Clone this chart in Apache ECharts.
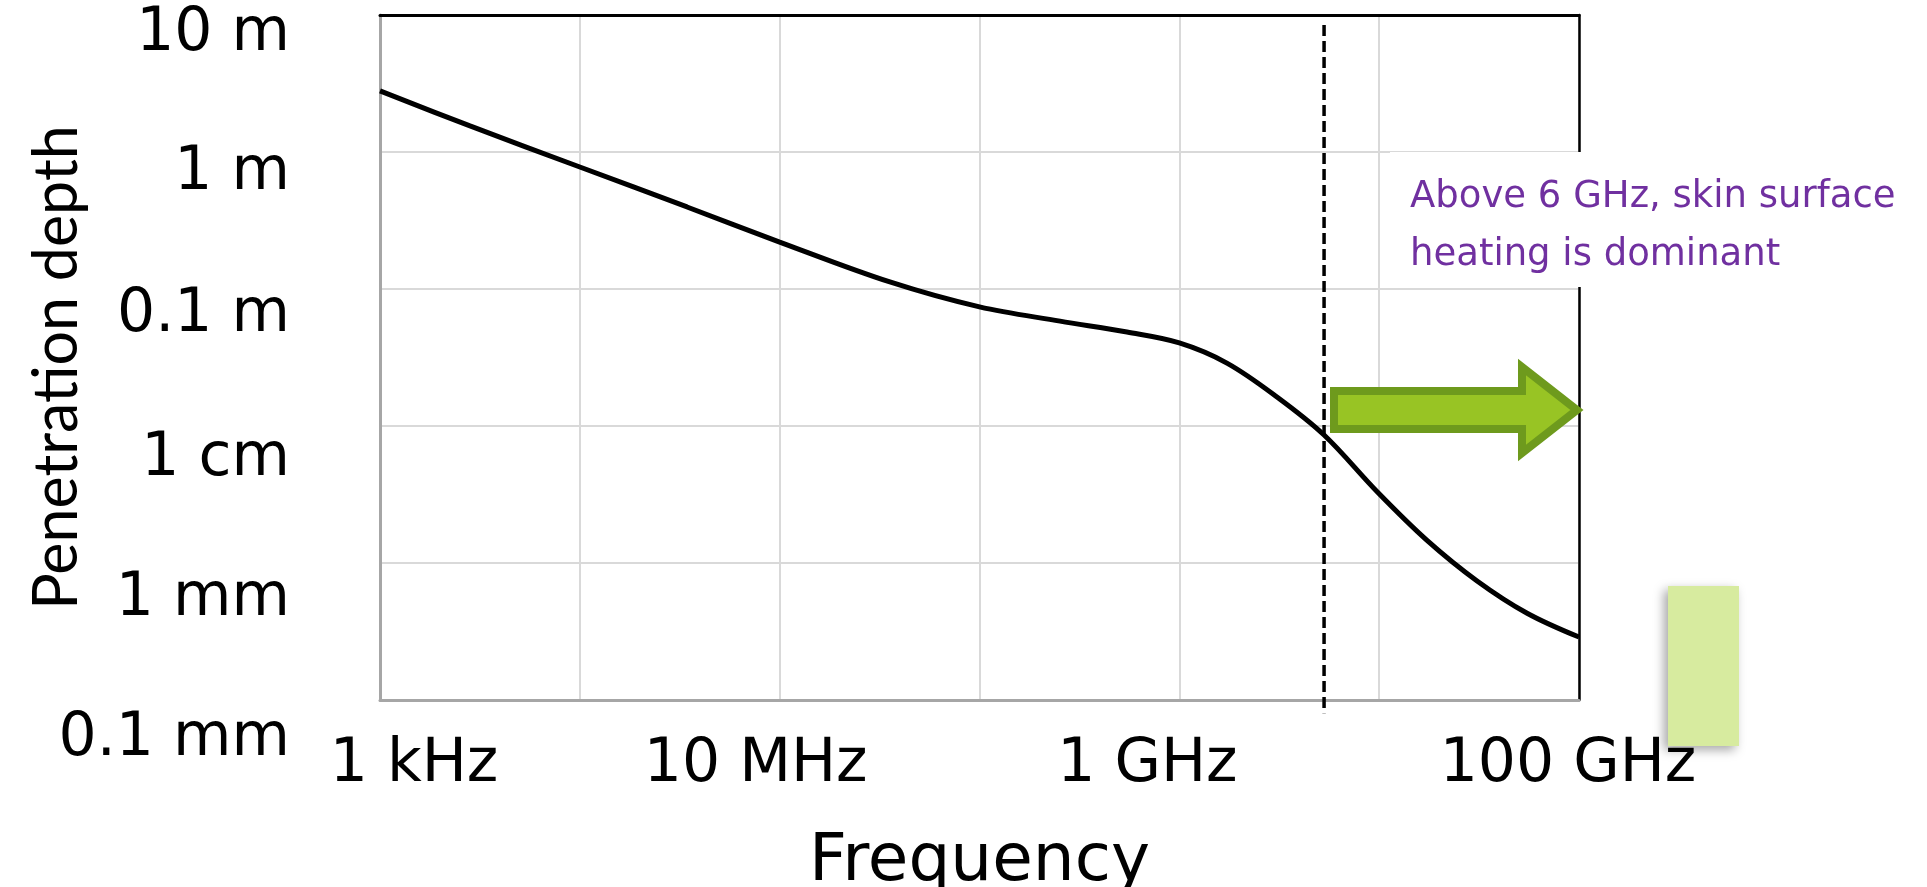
<!DOCTYPE html>
<html><head><meta charset="utf-8">
<script src="https://cdn.jsdelivr.net/npm/echarts@6/dist/echarts.min.js"></script>
<style>html,body{margin:0;padding:0;background:#fff}#c{width:1927px;height:887px}</style>
</head><body><div id="c"></div>
<script>
// ---- data ----
const frequencyHz = [1e5, 2.82e5, 1e6, 3.44e6, 1e7, 3.56e7, 1e8, 2.53e8, 5.47e8, 1e9, 1.73e9, 3.08e9, 5.3e9, 9.8e9, 1.73e10, 3.09e10, 5.5e10, 1e11];
const depthM = [2.79, 1.55, 0.777, 0.397, 0.22, 0.1125, 0.074, 0.0583, 0.0485, 0.0404, 0.0288, 0.0163, 0.0086, 0.0033, 0.00147, 0.00074, 0.00043, 0.000288];
const xTickValues = [1e5, 1e7, 1e9, 1e11];
const xTickLabels = ['1 kHz', '10 MHz', '1 GHz', '100 GHz'];
const yTickValues = [1e-4, 1e-3, 1e-2, 1e-1, 1, 10];
const yTickLabels = ['0.1 mm', '1 mm', '1 cm', '0.1 m', '1 m', '10 m'];
const thresholdHz = 5.3e9;
const thresholdSpan = [8.45, 8.0e-5];
const annotationLines = ['Above 6 GHz, skin surface', 'heating is dominant'];

// ---- layout (label offsets as in the picture) ----
const xLabelShift = [34, -24, -32, -11];
const yLabelShift = [39, 36, 33, 26, 21, 19];
const LABEL_FONT = '"DejaVu Sans"';
const LABEL_SIZE = 60;

const xRich = {}, yRich = {};
xLabelShift.forEach((d, i) => {
  xRich['x' + i] = { fontFamily: LABEL_FONT, fontSize: LABEL_SIZE, color: '#000',
    padding: d >= 0 ? [0, 0, 0, 2 * d] : [0, -2 * d, 0, 0] };
});
yLabelShift.forEach((d, i) => {
  yRich['y' + i] = { fontFamily: LABEL_FONT, fontSize: LABEL_SIZE, color: '#000', padding: [2 * d, 0, 0, 0] };
});
function idxOf(arr, v) {
  return arr.findIndex(t => Math.abs(Math.log10(t) - Math.log10(v)) < 1e-6);
}

const chart = echarts.init(document.getElementById('c'), null, { renderer: 'canvas' });
const gridLine = { show: true, lineStyle: { color: '#d9d9d9', width: 2 } };
chart.setOption({
  animation: false,
  backgroundColor: '#fff',
  grid: { left: 380, right: 348, top: 15, bottom: 187, containLabel: false, outerBoundsMode: 'none' },
  xAxis: [{
    type: 'log', logBase: 10, min: 1e5, max: 1e11,
    name: 'Frequency', nameLocation: 'middle', nameGap: 130, nameMoveOverlap: false,
    nameTextStyle: { fontFamily: LABEL_FONT, fontSize: 66, color: '#000' },
    axisLine: { show: true, lineStyle: { color: '#a6a6a6', width: 3 } },
    axisTick: { show: false },
    splitLine: gridLine, minorSplitLine: { show: false },
    axisLabel: {
      margin: 35, showMinLabel: true, showMaxLabel: true, hideOverlap: false,
      fontFamily: LABEL_FONT, fontSize: LABEL_SIZE, color: '#000', rich: xRich,
      formatter: v => { const i = idxOf(xTickValues, v); return i < 0 ? '' : '{x' + i + '|' + xTickLabels[i] + '}'; }
    }
  }, {
    type: 'log', logBase: 10, min: 1e5, max: 1e11, position: 'top',
    axisLine: { show: true, lineStyle: { color: '#000', width: 3 } },
    axisTick: { show: false }, axisLabel: { show: false }, splitLine: { show: false }
  }],
  yAxis: [{
    type: 'log', logBase: 10, min: 1e-4, max: 10,
    name: 'Penetration depth', nameLocation: 'middle', nameGap: 292, nameRotate: 90, nameMoveOverlap: false,
    nameTextStyle: { fontFamily: 'Lato', fontSize: 61, color: '#000', padding: [0, 20, 0, 0] },
    axisLine: { show: true, lineStyle: { color: '#a6a6a6', width: 3 } },
    axisTick: { show: false },
    splitLine: gridLine,
    axisLabel: {
      margin: 90, align: 'right', showMinLabel: true, showMaxLabel: true, hideOverlap: false,
      fontFamily: LABEL_FONT, fontSize: LABEL_SIZE, color: '#000', rich: yRich,
      formatter: v => { const i = idxOf(yTickValues, v); return i < 0 ? '' : '{y' + i + '|' + yTickLabels[i] + '}'; }
    }
  }, {
    type: 'log', logBase: 10, min: 1e-4, max: 10, position: 'right',
    axisLine: { show: true, lineStyle: { color: '#000', width: 2.5 } },
    axisTick: { show: false }, axisLabel: { show: false }, splitLine: { show: false }
  }],
  series: [{
    type: 'line', xAxisIndex: 0, yAxisIndex: 0,
    data: frequencyHz.map((f, i) => [f, depthM[i]]),
    smooth: 0.35, showSymbol: false, lineStyle: { color: '#000', width: 5 }, z: 5
  }, {
    type: 'line', xAxisIndex: 0, yAxisIndex: 0, clip: false,
    data: thresholdSpan.map(d => [thresholdHz, d]),
    showSymbol: false, lineStyle: { color: '#000', width: 3.5, type: [11, 5] }, z: 6
  }],
  graphic: [
    { type: 'rect', z: 100, shape: { x: 1390, y: 152, width: 537, height: 135 }, style: { fill: '#fff' } },
    { type: 'text', z: 101, style: { text: annotationLines.join('\n'), x: 1410, y: 168,
        font: '37px "DejaVu Sans"', fill: '#7030a0', lineHeight: 58, align: 'left', verticalAlign: 'top' } },
    { type: 'polygon', z: 102, shape: { points: [[1334, 391], [1522, 391], [1522, 367], [1577, 410], [1522, 453], [1522, 429], [1334, 429]] },
      style: { fill: '#98c424', stroke: '#6e9a1d', lineWidth: 8, lineJoin: 'miter' } },
    { type: 'rect', z: 50, shape: { x: 1668, y: 586, width: 71, height: 160 },
      style: { fill: '#d7eb9f', shadowBlur: 10, shadowOffsetX: -4, shadowOffsetY: 4, shadowColor: 'rgba(0,0,0,0.35)' } }
  ]
});
</script></body></html>
